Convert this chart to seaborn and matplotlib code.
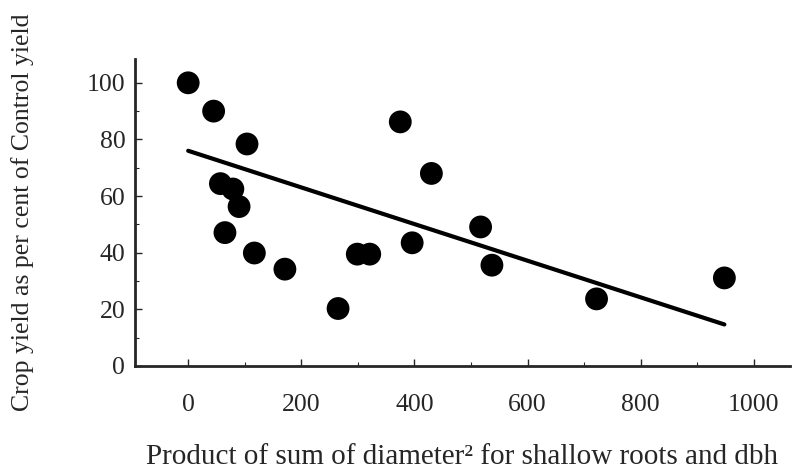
import numpy as np
import matplotlib.pyplot as plt
import pandas as pd
import seaborn as sns
from matplotlib.ticker import MultipleLocator

# values
root_product = [0, 45, 104, 57, 79, 90, 65, 117, 171, 265, 299, 321,
                375, 396, 430, 517, 537, 722, 948]
crop_yield = [100, 90, 78.4, 64.4, 62.5, 56.3, 47.1, 39.9, 34.2, 20.3, 39.5, 39.5,
              86.2, 43.5, 68, 49.1, 35.6, 23.7, 31.1]
# fitted line as drawn in the figure
fit_intercept = 76.0
fit_slope = -0.0647

x_ticks = [0, 200, 400, 600, 800, 1000]
y_ticks = [0, 20, 40, 60, 80, 100]

df = pd.DataFrame({'x': root_product, 'y': crop_yield})
line_x = np.array([min(root_product), max(root_product)])
line_df = pd.DataFrame({'x': line_x, 'y': fit_intercept + fit_slope * line_x})

sns.set_style('ticks')
plt.rcParams['font.family'] = ['Liberation Serif', 'DejaVu Serif']

fig = plt.figure(figsize=(7.97, 4.76), dpi=100)
ax = fig.add_axes([0.1694, 0.2311, 0.9912 - 0.1694, 0.876 - 0.2311])

sns.lineplot(data=line_df, x='x', y='y', color='black', linewidth=3, ax=ax)
sns.scatterplot(data=df, x='x', y='y', color='black', s=270, edgecolor='none', ax=ax, zorder=3)

ax.set_xlim(-94, 1064)
ax.set_ylim(0, 108.4)
ax.set_xticks(x_ticks)
ax.set_yticks(y_ticks)
ax.xaxis.set_minor_locator(MultipleLocator(100))
ax.yaxis.set_minor_locator(MultipleLocator(10))
ax.tick_params(axis='both', which='major', direction='in', length=5, width=1, labelsize=18.5)
ax.tick_params(axis='both', which='minor', direction='in', length=3, width=0.8)
ax.tick_params(axis='x', which='major', pad=20)
ax.tick_params(axis='y', which='major', pad=7)

sns.despine(ax=ax)
for s in ['left', 'bottom']:
    ax.spines[s].set_linewidth(2)

ax.set_xlabel('Product of sum of diameter\u00b2 for shallow roots and dbh', fontsize=21, labelpad=20)
ax.set_ylabel('Crop yield as per cent of Control yield', fontsize=18.5, labelpad=38)

fig.savefig('out.png', dpi=100)
